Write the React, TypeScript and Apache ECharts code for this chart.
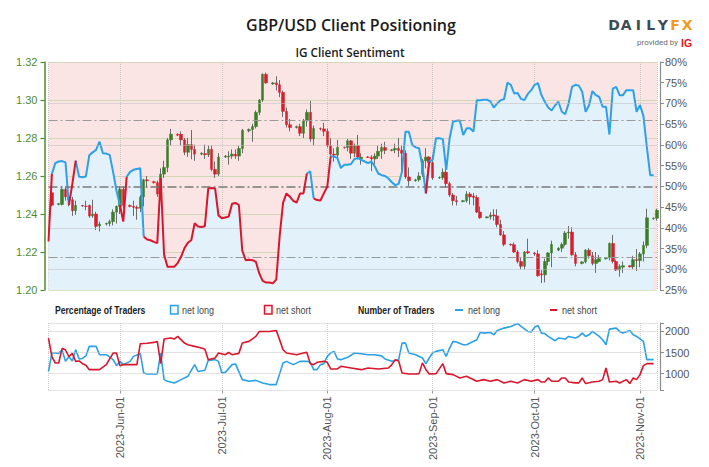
import React, { useEffect, useRef } from 'react';
import * as echarts from 'echarts';

// ---------- axis domain ----------
const FIRST_DAY_UTC = Date.UTC(2023, 4, 11);
const DAY_COUNT = 180; // 2023-05-11 .. 2023-11-06
const MONTHS = ['Jan', 'Feb', 'Mar', 'Apr', 'May', 'Jun', 'Jul', 'Aug', 'Sep', 'Oct', 'Nov', 'Dec'];
const days: string[] = [];
for (let i = 0; i < DAY_COUNT; i++) days.push(new Date(FIRST_DAY_UTC + i * 86400000).toISOString().slice(0, 10));
const full = (md: string) => '2023-' + md;

// ---------- tick values ----------
const priceTicks = { min: 1.2, max: 1.32, step: 0.02 };
const pctTicks = { min: 25, max: 80, step: 5 };
const countLabels = [1000, 1500, 2000];
const countRange = { min: 600, max: 2200 };
const pctDotted = [30, 40, 60, 70];
const pctDashDot = [33, 50, 66];

// ---------- GBP/USD daily candles: [MM-DD, open, close, low, high] ----------
const candles: [string, number, number, number, number][] = [
  ['05-12', 1.2512, 1.2446, 1.244, 1.2525], ['05-14', 1.245, 1.2455, 1.2446, 1.2458],
  ['05-15', 1.245, 1.253, 1.2445, 1.2545], ['05-16', 1.253, 1.249, 1.247, 1.2546],
  ['05-17', 1.249, 1.2475, 1.244, 1.251], ['05-18', 1.2475, 1.2417, 1.239, 1.249],
  ['05-19', 1.2417, 1.2445, 1.2395, 1.247], ['05-21', 1.2445, 1.2442, 1.2438, 1.2448],
  ['05-22', 1.2442, 1.244, 1.242, 1.247], ['05-23', 1.2445, 1.239, 1.238, 1.245],
  ['05-24', 1.239, 1.24, 1.238, 1.2475], ['05-25', 1.24, 1.2335, 1.2315, 1.2412],
  ['05-26', 1.2337, 1.2347, 1.2308, 1.236], ['05-28', 1.2347, 1.235, 1.234, 1.2355],
  ['05-29', 1.235, 1.236, 1.2335, 1.237], ['05-30', 1.236, 1.241, 1.234, 1.2425],
  ['05-31', 1.241, 1.244, 1.235, 1.2445], ['06-01', 1.244, 1.253, 1.24, 1.2545],
  ['06-02', 1.253, 1.2445, 1.243, 1.2545], ['06-04', 1.2445, 1.244, 1.2435, 1.245],
  ['06-05', 1.244, 1.2435, 1.239, 1.247], ['06-06', 1.2435, 1.243, 1.237, 1.2445],
  ['06-07', 1.243, 1.249, 1.241, 1.25], ['06-08', 1.249, 1.258, 1.244, 1.2585],
  ['06-09', 1.258, 1.2575, 1.254, 1.26], ['06-11', 1.257, 1.2565, 1.256, 1.2575],
  ['06-12', 1.2565, 1.2505, 1.249, 1.2575], ['06-13', 1.2505, 1.261, 1.2495, 1.264],
  ['06-14', 1.261, 1.2645, 1.259, 1.268], ['06-15', 1.2645, 1.279, 1.262, 1.28],
  ['06-16', 1.279, 1.282, 1.276, 1.2848], ['06-18', 1.282, 1.2815, 1.281, 1.2825],
  ['06-19', 1.282, 1.279, 1.276, 1.2835], ['06-20', 1.279, 1.2725, 1.271, 1.28],
  ['06-21', 1.2725, 1.2765, 1.27, 1.28], ['06-22', 1.2765, 1.274, 1.2688, 1.2842],
  ['06-23', 1.274, 1.2715, 1.268, 1.2765], ['06-25', 1.2715, 1.272, 1.271, 1.2725],
  ['06-26', 1.2718, 1.2712, 1.269, 1.2765], ['06-27', 1.2712, 1.274, 1.27, 1.276],
  ['06-28', 1.274, 1.2635, 1.2625, 1.276], ['06-29', 1.2635, 1.261, 1.259, 1.2675],
  ['06-30', 1.261, 1.27, 1.26, 1.272], ['07-02', 1.27, 1.2705, 1.2695, 1.271],
  ['07-03', 1.27, 1.2705, 1.266, 1.273], ['07-04', 1.2705, 1.2715, 1.269, 1.274],
  ['07-05', 1.2715, 1.2705, 1.269, 1.274], ['07-06', 1.2705, 1.2745, 1.268, 1.276],
  ['07-07', 1.2745, 1.284, 1.272, 1.2848], ['07-09', 1.2838, 1.2845, 1.283, 1.285],
  ['07-10', 1.2845, 1.286, 1.278, 1.2875], ['07-11', 1.286, 1.2935, 1.285, 1.2945],
  ['07-12', 1.2935, 1.3, 1.292, 1.3005], ['07-13', 1.3, 1.3135, 1.299, 1.314],
  ['07-14', 1.3135, 1.309, 1.3085, 1.3144], ['07-16', 1.3085, 1.309, 1.308, 1.3095],
  ['07-17', 1.309, 1.308, 1.305, 1.3125], ['07-18', 1.308, 1.304, 1.3015, 1.3105],
  ['07-19', 1.304, 1.294, 1.291, 1.305], ['07-20', 1.294, 1.287, 1.2855, 1.296],
  ['07-21', 1.287, 1.2855, 1.2835, 1.29], ['07-23', 1.2855, 1.286, 1.285, 1.2865],
  ['07-24', 1.286, 1.2825, 1.281, 1.2875], ['07-25', 1.2825, 1.289, 1.28, 1.29],
  ['07-26', 1.289, 1.2935, 1.286, 1.295], ['07-27', 1.2935, 1.2795, 1.278, 1.2995],
  ['07-28', 1.2795, 1.285, 1.276, 1.2865], ['07-30', 1.285, 1.2848, 1.284, 1.2855],
  ['07-31', 1.2848, 1.2835, 1.281, 1.288], ['08-01', 1.2835, 1.276, 1.275, 1.285],
  ['08-02', 1.276, 1.2715, 1.269, 1.28], ['08-03', 1.2715, 1.271, 1.2675, 1.2745],
  ['08-04', 1.271, 1.275, 1.2685, 1.279], ['08-06', 1.275, 1.2748, 1.2745, 1.2755],
  ['08-07', 1.275, 1.2785, 1.273, 1.2795], ['08-08', 1.2785, 1.272, 1.269, 1.279],
  ['08-09', 1.272, 1.276, 1.27, 1.277], ['08-10', 1.276, 1.27, 1.269, 1.2816],
  ['08-11', 1.269, 1.27, 1.266, 1.272], ['08-13', 1.27, 1.2698, 1.2695, 1.2705],
  ['08-14', 1.2698, 1.269, 1.2625, 1.271], ['08-15', 1.269, 1.2705, 1.266, 1.272],
  ['08-16', 1.2705, 1.273, 1.269, 1.276], ['08-17', 1.273, 1.275, 1.269, 1.277],
  ['08-18', 1.275, 1.2735, 1.2715, 1.278], ['08-20', 1.2735, 1.2738, 1.273, 1.2742],
  ['08-21', 1.2738, 1.2745, 1.272, 1.277], ['08-22', 1.2745, 1.2735, 1.27, 1.28],
  ['08-23', 1.2735, 1.272, 1.2615, 1.276], ['08-24', 1.272, 1.2595, 1.2585, 1.2735],
  ['08-25', 1.2595, 1.2575, 1.2548, 1.2645], ['08-27', 1.2575, 1.258, 1.257, 1.2585],
  ['08-28', 1.258, 1.26, 1.257, 1.262], ['08-29', 1.261, 1.268, 1.2595, 1.269],
  ['08-30', 1.268, 1.27, 1.264, 1.2746], ['08-31', 1.27, 1.267, 1.262, 1.2705],
  ['09-01', 1.267, 1.259, 1.258, 1.271], ['09-03', 1.259, 1.2592, 1.2585, 1.2598],
  ['09-04', 1.2592, 1.262, 1.258, 1.264], ['09-05', 1.262, 1.256, 1.254, 1.264],
  ['09-06', 1.256, 1.25, 1.249, 1.257], ['09-07', 1.25, 1.247, 1.2445, 1.251],
  ['09-08', 1.247, 1.2465, 1.2445, 1.2495], ['09-10', 1.2465, 1.247, 1.2462, 1.2474],
  ['09-11', 1.247, 1.2505, 1.246, 1.252], ['09-12', 1.2505, 1.249, 1.245, 1.2515],
  ['09-13', 1.2495, 1.2487, 1.2445, 1.251], ['09-14', 1.2487, 1.241, 1.2405, 1.25],
  ['09-15', 1.241, 1.238, 1.2375, 1.244], ['09-17', 1.238, 1.2385, 1.2378, 1.2388],
  ['09-18', 1.2385, 1.2395, 1.237, 1.241], ['09-19', 1.2395, 1.239, 1.2365, 1.2425],
  ['09-20', 1.239, 1.2345, 1.233, 1.2425], ['09-21', 1.2345, 1.229, 1.2285, 1.237],
  ['09-22', 1.229, 1.224, 1.223, 1.231], ['09-24', 1.224, 1.2238, 1.2232, 1.2245],
  ['09-25', 1.2238, 1.22, 1.2195, 1.225], ['09-26', 1.22, 1.215, 1.214, 1.221],
  ['09-27', 1.215, 1.2125, 1.211, 1.217], ['09-28', 1.2125, 1.22, 1.211, 1.2205],
  ['09-29', 1.2202, 1.2195, 1.219, 1.227], ['10-01', 1.2195, 1.219, 1.218, 1.22],
  ['10-02', 1.219, 1.2075, 1.207, 1.221], ['10-03', 1.2085, 1.208, 1.2037, 1.2105],
  ['10-04', 1.208, 1.215, 1.204, 1.2165], ['10-05', 1.215, 1.2195, 1.213, 1.22],
  ['10-06', 1.2195, 1.224, 1.212, 1.226], ['10-08', 1.221, 1.222, 1.2205, 1.2225],
  ['10-09', 1.222, 1.224, 1.22, 1.225], ['10-10', 1.224, 1.23, 1.223, 1.231],
  ['10-11', 1.23, 1.2305, 1.227, 1.2337], ['10-12', 1.2305, 1.2185, 1.218, 1.233],
  ['10-13', 1.2185, 1.214, 1.2125, 1.22], ['10-15', 1.214, 1.2148, 1.2135, 1.215],
  ['10-16', 1.2148, 1.221, 1.214, 1.2215], ['10-17', 1.221, 1.218, 1.2165, 1.222],
  ['10-18', 1.218, 1.214, 1.213, 1.22], ['10-19', 1.214, 1.216, 1.209, 1.22],
  ['10-20', 1.215, 1.2165, 1.2145, 1.2185], ['10-22', 1.2165, 1.217, 1.216, 1.2172],
  ['10-23', 1.217, 1.2245, 1.2155, 1.225], ['10-24', 1.2245, 1.215, 1.214, 1.229],
  ['10-25', 1.215, 1.2105, 1.21, 1.216], ['10-26', 1.2105, 1.2125, 1.207, 1.2135],
  ['10-27', 1.212, 1.2128, 1.209, 1.215], ['10-29', 1.2128, 1.2122, 1.2118, 1.213],
  ['10-30', 1.2122, 1.216, 1.211, 1.218], ['10-31', 1.216, 1.2155, 1.21, 1.2215],
  ['11-01', 1.2155, 1.219, 1.212, 1.22], ['11-02', 1.219, 1.2235, 1.215, 1.2255],
  ['11-03', 1.2235, 1.238, 1.222, 1.2428], ['11-05', 1.2375, 1.2378, 1.237, 1.2382],
  ['11-06', 1.2378, 1.242, 1.2365, 1.2428],
];

// ---------- % of traders net long, one value per day from 05-11 ----------
const pctNetLong: number[] = [
  36.7, 53.0, 55.6, 56.0, 56.1, 55.8, 45.5, 50.5, 56.2, 52.3, 52.2, 52.4, 57.5, 58.2, 58.8, 60.8, 58.0, 57.9, 57.6, 53.5, 49.0,
  45.5, 41.5, 52.3, 53.5, 54.0, 54.2, 54.4, 37.9, 37.2, 37.0, 36.6, 36.3, 52.0, 33.5, 30.6, 30.6, 30.6, 31.5, 33.0, 35.1,
  36.4, 37.0, 41.1, 40.3, 40.2, 40.4, 49.5, 49.6, 49.5, 43.0, 42.3, 42.5, 42.7, 45.8, 46.0, 45.5, 34.5, 32.2, 32.3, 32.2,
  31.8, 29.0, 27.2, 26.8, 26.8, 26.6, 27.5, 38.0, 46.0, 48.3, 47.5, 46.5, 46.1, 48.3, 48.3, 53.1, 53.6, 47.1, 46.7, 46.6,
  48.3, 49.9, 57.2, 57.2, 56.8, 54.4, 55.2, 55.2, 55.4, 56.6, 56.8, 56.4, 56.0, 55.6, 56.0, 54.8, 53.1, 52.7, 52.5, 51.9,
  51.0, 50.3, 50.6, 53.6, 63.2, 63.2, 60.0, 59.4, 59.2, 54.8, 48.3, 56.0, 56.4, 61.6, 61.6, 61.4, 54.0, 61.6, 65.6, 65.8,
  65.9, 62.4, 64.0, 64.0, 63.2, 70.8, 70.8, 70.9, 70.9, 70.5, 69.0, 70.0, 70.8, 71.0, 75.0, 74.5, 72.4, 72.5, 71.1, 70.8,
  72.3, 73.2, 74.5, 74.9, 72.0, 70.4, 69.0, 68.3, 69.5, 70.4, 68.0, 67.4, 70.0, 74.0, 74.5, 74.3, 72.8, 68.0, 69.5, 73.0,
  72.0, 71.6, 69.2, 69.2, 62.5, 73.6, 74.0, 72.0, 72.0, 73.2, 73.2, 73.2, 68.0, 69.6, 67.0, 59.6, 52.7, 52.7,
];
// periods drawn in red (net short signal) on the sentiment line
const redSpans: [string, string][] = [
  ['05-11', '05-12'], ['05-17', '05-19'], ['06-01', '06-03'], ['06-08', '07-26'], ['07-28', '08-02'], ['08-30', '08-31'],
];

// ---------- number of traders ----------
const longCount: [string, number][] = [
  ['05-11', 1055], ['05-12', 1488], ['05-13', 1488], ['05-14', 1480], ['05-15', 1560], ['05-16', 1290], ['05-17', 1400],
  ['05-18', 1300], ['05-19', 1567], ['05-20', 1350], ['05-21', 1360], ['05-22', 1420], ['05-23', 1646], ['05-25', 1646],
  ['05-26', 1449], ['05-28', 1449], ['05-30', 1331], ['05-31', 1189], ['06-01', 1291], ['06-02', 1213], ['06-04', 1290],
  ['06-05', 1409], ['06-07', 1472], ['06-08', 1016], ['06-09', 992], ['06-12', 992], ['06-13', 1488], ['06-14', 858],
  ['06-15', 819], ['06-17', 780], ['06-19', 858], ['06-21', 937], ['06-22', 1079], ['06-23', 1213], ['06-24', 1050],
  ['06-26', 1079], ['06-27', 1315], ['06-29', 1331], ['06-30', 1290], ['07-01', 1016], ['07-02', 1030], ['07-04', 1213],
  ['07-05', 1230], ['07-07', 858], ['07-09', 819], ['07-11', 840], ['07-13', 780], ['07-15', 740], ['07-17', 740],
  ['07-18', 1000], ['07-19', 1252], ['07-20', 1291], ['07-22', 1213], ['07-24', 1291], ['07-26', 1291], ['07-27', 1270],
  ['07-28', 1094], ['07-29', 1094], ['07-30', 1213], ['07-31', 1236], ['08-01', 1409], ['08-02', 1488], ['08-03', 1528],
  ['08-04', 1346], ['08-05', 1331], ['08-07', 1386], ['08-09', 1488], ['08-11', 1472], ['08-13', 1449], ['08-15', 1449],
  ['08-17', 1420], ['08-18', 1346], ['08-20', 1291], ['08-22', 1331], ['08-23', 1724], ['08-24', 1724], ['08-25', 1488],
  ['08-27', 1449], ['08-29', 1370], ['08-30', 1236], ['08-31', 1370], ['09-01', 1488], ['09-02', 1528], ['09-04', 1567],
  ['09-05', 1409], ['09-06', 1606], ['09-07', 1764], ['09-08', 1750], ['09-10', 1685], ['09-11', 1685], ['09-12', 1724],
  ['09-14', 1803], ['09-15', 1976], ['09-16', 1961], ['09-18', 1976], ['09-19', 1921], ['09-20', 2024], ['09-22', 2079],
  ['09-24', 2118], ['09-26', 2190], ['09-27', 2118], ['09-29', 2000], ['09-30', 1990], ['10-01', 2100], ['10-02', 2140],
  ['10-03', 1961], ['10-04', 1950], ['10-05', 1882], ['10-07', 1780], ['10-08', 1843], ['10-10', 1820], ['10-11', 1882],
  ['10-13', 1843], ['10-14', 1882], ['10-15', 1961], ['10-16', 1882], ['10-17', 1920], ['10-18', 2000], ['10-20', 1882],
  ['10-21', 1803], ['10-22', 1685], ['10-23', 2055], ['10-25', 2079], ['10-26', 2000], ['10-27', 1961], ['10-29', 2024],
  ['10-30', 1921], ['10-31', 1882], ['11-02', 1764], ['11-03', 1331], ['11-05', 1331],
];
const shortCount: [string, number][] = [
  ['05-11', 1843], ['05-12', 1400], ['05-13', 1252], ['05-14', 1252], ['05-15', 1600], ['05-16', 1560], ['05-17', 1400],
  ['05-18', 1480], ['05-19', 1291], ['05-20', 1300], ['05-21', 1236], ['05-22', 1200], ['05-23', 1094], ['05-26', 1094],
  ['05-28', 1213], ['05-30', 1488], ['05-31', 1488], ['06-01', 1189], ['06-02', 1213], ['06-06', 1213], ['06-07', 1709],
  ['06-09', 1720], ['06-11', 1740], ['06-12', 1764], ['06-13', 1236], ['06-14', 1819], ['06-16', 1843], ['06-17', 1820],
  ['06-18', 1882], ['06-20', 1724], ['06-21', 1685], ['06-23', 1646], ['06-25', 1606], ['06-26', 1580], ['06-27', 1331],
  ['06-29', 1370], ['06-30', 1488], ['07-02', 1449], ['07-03', 1500], ['07-04', 1449], ['07-06', 1480], ['07-07', 1724],
  ['07-09', 1764], ['07-11', 1882], ['07-12', 2000], ['07-15', 2000], ['07-17', 2024], ['07-18', 1800], ['07-19', 1567],
  ['07-20', 1488], ['07-23', 1449], ['07-25', 1488], ['07-26', 1504], ['07-27', 1236], ['07-28', 1213], ['07-29', 1268],
  ['07-31', 1291], ['08-01', 1268], ['08-02', 1110], ['08-04', 1110], ['08-05', 1173], ['08-08', 1134], ['08-11', 1094],
  ['08-13', 1134], ['08-16', 1110], ['08-19', 1134], ['08-20', 1213], ['08-21', 1331], ['08-22', 1300], ['08-23', 1016],
  ['08-25', 992], ['08-27', 992], ['08-28', 1000], ['08-29', 1252], ['08-30', 1100], ['08-31', 992], ['09-02', 1000],
  ['09-04', 1236], ['09-05', 1000], ['09-07', 976], ['09-09', 898], ['09-11', 937], ['09-12', 898], ['09-14', 819],
  ['09-16', 858], ['09-18', 819], ['09-20', 858], ['09-22', 780], ['09-24', 819], ['09-26', 780], ['09-28', 858],
  ['09-30', 819], ['10-02', 858], ['10-03', 800], ['10-04', 800], ['10-05', 898], ['10-06', 819], ['10-08', 819],
  ['10-09', 898], ['10-10', 898], ['10-11', 800], ['10-13', 780], ['10-14', 780], ['10-15', 898], ['10-16', 764],
  ['10-18', 800], ['10-20', 819], ['10-21', 858], ['10-22', 1134], ['10-23', 800], ['10-25', 819], ['10-26', 780],
  ['10-28', 858], ['10-29', 764], ['10-30', 898], ['10-31', 858], ['11-01', 976], ['11-02', 1189], ['11-03', 1236],
  ['11-05', 1236],
];

// ---------- styling ----------
const SANS = "'Liberation Sans', Arial, sans-serif";
const GREEN_AXIS = '#4f8a2f';
const UP = '#3d7d28';
const DOWN = '#d3202e';
const WICK = '#6c6c6c';
const BLUE = '#2ba1e6';
const RED = '#d8172d';

function buildOption() {
  const isMonthStart = (_i: number, v: string) => v.endsWith('-01');
  const isGridDay = (i: number, v: string) => i === 0 || i === days.length - 1 || v.endsWith('-01');
  const fmtDay = (v: string) => {
    const [y, m, d] = v.split('-');
    return `${y}-${MONTHS[Number(m) - 1]}-${d}`;
  };

  const n = pctNetLong.length;
  const segRed = (i: number) => redSpans.some(([a, b]) => full(a) <= days[i] && days[i + 1] <= full(b));
  const blueSeg: (number | null)[] = new Array(n).fill(null);
  const redSeg: (number | null)[] = new Array(n).fill(null);
  for (let i = 0; i < n - 1; i++) {
    const arr = segRed(i) ? redSeg : blueSeg;
    arr[i] = pctNetLong[i];
    arr[i + 1] = pctNetLong[i + 1];
  }

  const ohlc = candles.map(([d, o, c, l, h]) => [full(d), o, c, l, h]);
  const bodies = candles.map(([d, o, c]) => [full(d), o, c, Math.min(o, c), Math.max(o, c)]);

  const pctLines = [
    ...pctDotted.map((v) => ({ yAxis: v, lineStyle: { type: 'dotted', color: '#bdbdbd', width: 1 } })),
    ...pctDashDot.map((v) => ({
      yAxis: v,
      lineStyle: { type: [9, 3, 2, 3], color: v === 50 ? '#7a7a7a' : '#9a9a9a', width: v === 50 ? 1.6 : 1.2 },
    })),
  ];

  const countLines = [countRange.min, ...countLabels, countRange.max].map((v) => ({
    yAxis: v,
    lineStyle: { type: 'dotted', color: '#c4c4c4', width: 1 },
  }));

  const legendY = 310;
  const legendFont = `11px ${SANS}`;
  const legendBold = `bold 10.5px ${SANS}`;
  const SQ = 0.82; // narrow-face emulation
  const logoLetters = ['D', 'A', 'I', 'L', 'Y', 'F', 'X'];
  const legendText = (x: number, text: string, bold: boolean) => ({
    type: 'text', x, y: legendY, scaleX: SQ,
    style: { text, textVerticalAlign: 'middle', fill: bold ? '#222' : '#444', font: bold ? legendBold : legendFont },
  });

  return {
    animation: false,
    backgroundColor: '#ffffff',
    grid: [
      { left: 48.5, right: 52, top: 62, height: 228, show: true, backgroundColor: '#fbe4e4', borderWidth: 0, outerBoundsMode: 'none' },
      { left: 48.5, right: 52, top: 323, height: 67.5, show: false, outerBoundsMode: 'none' },
    ],
    xAxis: [
      {
        type: 'category', gridIndex: 0, data: days, boundaryGap: false,
        axisLine: { show: false }, axisTick: { show: false }, axisLabel: { show: false },
        splitLine: { show: true, interval: isGridDay, lineStyle: { color: '#c6c6c6', type: 'dotted' } },
      },
      {
        type: 'category', gridIndex: 1, data: days, boundaryGap: false,
        axisLine: { show: false },
        axisTick: { show: true, interval: isMonthStart, length: 3, lineStyle: { color: '#9a9a9a' } },
        axisLabel: { show: true, interval: isMonthStart, rotate: 90, formatter: fmtDay, color: '#555', fontSize: 11, fontFamily: SANS, margin: 6 },
        splitLine: { show: true, interval: isGridDay, lineStyle: { color: '#cdcdcd', type: 'dotted' } },
      },
    ],
    yAxis: [
      {
        type: 'value', gridIndex: 0, position: 'left', min: priceTicks.min, max: priceTicks.max, interval: priceTicks.step, offset: 4,
        axisLine: { show: true, lineStyle: { color: GREEN_AXIS, width: 1.5 } },
        axisTick: { show: true, length: 4, lineStyle: { color: GREEN_AXIS, width: 1.2 } },
        axisLabel: { color: GREEN_AXIS, fontSize: 11, fontFamily: SANS, margin: 7, formatter: (v: number) => v.toFixed(2) },
        splitLine: { show: true, lineStyle: { color: '#a8cb8c', type: 'dotted' } },
      },
      {
        type: 'value', gridIndex: 0, position: 'right', min: pctTicks.min, max: pctTicks.max, interval: pctTicks.step, offset: 3,
        axisLine: { show: true, lineStyle: { color: '#8c8c8c', width: 1.2 } },
        axisTick: { show: true, length: 4, lineStyle: { color: '#8c8c8c' } },
        axisLabel: { color: '#555', fontSize: 11, fontFamily: SANS, margin: 5, formatter: '{value}%' },
        splitLine: { show: false },
      },
      {
        type: 'value', gridIndex: 1, position: 'right', min: countRange.min, max: countRange.max, offset: 3,
        axisLine: { show: true, lineStyle: { color: '#8c8c8c', width: 1.2 } },
        axisTick: { show: true, length: 4, customValues: [countRange.min, ...countLabels, countRange.max], lineStyle: { color: '#8c8c8c' } },
        axisLabel: { color: '#555', fontSize: 11, fontFamily: SANS, margin: 5, customValues: countLabels, formatter: (v: number) => String(v) },
        splitLine: { show: false },
      },
    ],
    series: [
      {
        name: 'area', type: 'line', xAxisIndex: 0, yAxisIndex: 1, data: pctNetLong, symbol: 'none', silent: true, z: 1,
        lineStyle: { width: 0, opacity: 0 },
        areaStyle: { color: '#e3f1fb', opacity: 1, origin: 'start' },
        markLine: { silent: true, symbol: ['none', 'none'], label: { show: false }, animation: false, data: pctLines },
      },
      {
        name: 'wick', type: 'candlestick', xAxisIndex: 0, yAxisIndex: 0, data: ohlc, encode: { x: 0, y: [1, 2, 3, 4] },
        barWidth: 1, z: 2, silent: true,
        itemStyle: { color: WICK, color0: WICK, borderColor: WICK, borderColor0: WICK, borderWidth: 1 },
      },
      {
        name: 'body', type: 'candlestick', xAxisIndex: 0, yAxisIndex: 0, data: bodies, encode: { x: 0, y: [1, 2, 3, 4] },
        barWidth: 3, z: 3, silent: true,
        itemStyle: { color: UP, color0: DOWN, borderColor: UP, borderColor0: DOWN, borderWidth: 0.5 },
      },
      {
        name: 'long%', type: 'line', xAxisIndex: 0, yAxisIndex: 1, data: blueSeg, symbol: 'none', connectNulls: false, z: 4,
        lineStyle: { color: BLUE, width: 2 },
      },
      {
        name: 'short%', type: 'line', xAxisIndex: 0, yAxisIndex: 1, data: redSeg, symbol: 'none', connectNulls: false, z: 5,
        lineStyle: { color: RED, width: 2 },
      },
      {
        name: 'net long', type: 'line', xAxisIndex: 1, yAxisIndex: 2, data: longCount.map(([d, v]) => [full(d), v]), symbol: 'none', z: 4,
        lineStyle: { color: BLUE, width: 1.6 },
        markLine: { silent: true, symbol: ['none', 'none'], label: { show: false }, animation: false, data: countLines },
      },
      {
        name: 'net short', type: 'line', xAxisIndex: 1, yAxisIndex: 2, data: shortCount.map(([d, v]) => [full(d), v]), symbol: 'none', z: 5,
        lineStyle: { color: RED, width: 1.6 },
      },
    ],
    graphic: [
      { type: 'text', x: 351, y: 25, style: { text: 'GBP/USD Client Positioning', textAlign: 'center', textVerticalAlign: 'middle', fill: '#1b1b1b', font: "600 16px 'Open Sans', sans-serif" } },
      { type: 'text', x: 350, y: 52, style: { text: 'IG Client Sentiment', textAlign: 'center', textVerticalAlign: 'middle', fill: '#1b1b1b', font: "600 11.7px 'Open Sans', sans-serif" } },
      ...logoLetters.map((ch, i) => ({
        type: 'text', x: 614 + i * 12.2, y: 25,
        style: { text: ch, textAlign: 'center', textVerticalAlign: 'middle', fill: i < 5 ? '#3e4b57' : '#f39a1e', font: "bold 14px 'DejaVu Sans', sans-serif" },
      })),
      { type: 'text', x: 678, y: 42, style: { text: 'provided by', textAlign: 'right', textVerticalAlign: 'middle', fill: '#6a6a6a', font: '8px Roboto, sans-serif' } },
      { type: 'text', x: 681, y: 42.5, style: { text: 'IG', textAlign: 'left', textVerticalAlign: 'middle', fill: '#e0141e', font: "bold 10.5px 'Liberation Sans', sans-serif" } },

      legendText(55, 'Percentage of Traders', true),
      { type: 'rect', shape: { x: 170.5, y: legendY - 4.5, width: 7.5, height: 8.5 }, style: { fill: '#eef7fd', stroke: BLUE, lineWidth: 1.5 } },
      legendText(182, 'net long', false),
      { type: 'rect', shape: { x: 264.5, y: legendY - 4.5, width: 7.5, height: 8.5 }, style: { fill: '#fdeeee', stroke: RED, lineWidth: 1.5 } },
      legendText(276, 'net short', false),
      legendText(358, 'Number of Traders', true),
      { type: 'line', shape: { x1: 455, y1: legendY, x2: 463, y2: legendY }, style: { stroke: BLUE, lineWidth: 2 } },
      legendText(468, 'net long', false),
      { type: 'line', shape: { x1: 550, y1: legendY, x2: 557, y2: legendY }, style: { stroke: RED, lineWidth: 2 } },
      legendText(562, 'net short', false),
    ],
  };
}

export default function App() {
  const ref = useRef<HTMLDivElement>(null);
  useEffect(() => {
    document.body.style.margin = '0';
    if (!ref.current) return;
    const chart = echarts.init(ref.current, undefined, { renderer: 'svg' });
    chart.setOption(buildOption() as any);
    return () => chart.dispose();
  }, []);
  return <div ref={ref} style={{ width: 709, height: 467 }} />;
}
